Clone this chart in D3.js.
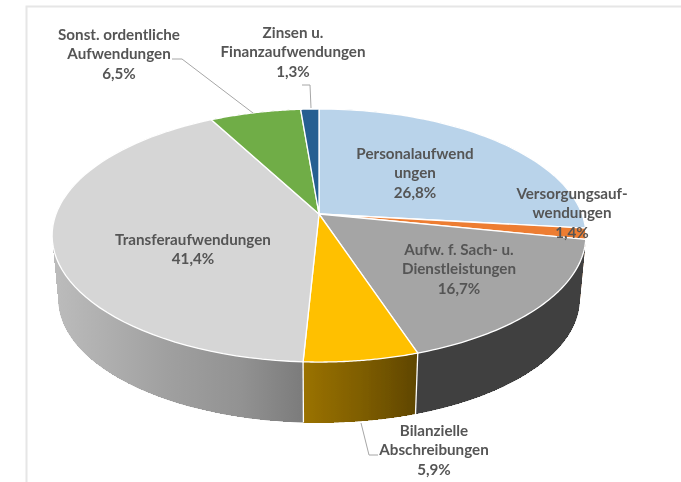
<!DOCTYPE html>
<html><head><meta charset="utf-8">
<script src="https://cdn.jsdelivr.net/npm/d3@7"></script>
<style>html,body{margin:0;padding:0;background:#fff}svg{display:block}</style>
</head><body><svg id="c" width="681" height="482"></svg>
<script>
const categories = ["Personalaufwendungen","Versorgungsaufwendungen","Aufw. f. Sach- u. Dienstleistungen","Bilanzielle Abschreibungen","Transferaufwendungen","Sonst. ordentliche Aufwendungen","Zinsen u. Finanzaufwendungen"];
const values = [26.8,1.4,16.7,5.9,41.4,6.5,1.3];
const labelLines = [["Personalaufwend","ungen"],["Versorgungsauf-","wendungen"],["Aufw. f. Sach- u.","Dienstleistungen"],["Bilanzielle","Abschreibungen"],["Transferaufwendungen"],["Sonst. ordentliche","Aufwendungen"],["Zinsen u.","Finanzaufwendungen"]];
const topColors = ["#b9d3ea","#ed7d31","#a5a5a5","#ffc000","#d6d6d6","#70ad47","#255e91"];

// layout, kept apart from the data
const labelPos = [[415,154],[572,194],[459,250],[434,431],[193,240],[119,35],[293,33]];
const leaders = [
  [[172,59],[182,59],[253,113]],
  [[302,85],[310,85],[311,108]],
  [[361,423],[369,455],[378,455]]
];
const W=681,H=482, apex=[319,214], A=263, K=0.17, M=-86.5;
const vanish=[319,3000], S=0.977;

const svg=d3.select("#c");
const defs=svg.append("defs");
defs.append("filter").attr("id","soft").attr("filterUnits","userSpaceOnUse")
  .attr("x",0).attr("y",0).attr("width",W).attr("height",H)
  .append("feGaussianBlur").attr("stdDeviation",0.55);
function grad(id,stops,x1,x2){
  const g=defs.append("linearGradient").attr("id",id).attr("gradientUnits","userSpaceOnUse")
    .attr("x1",x1).attr("x2",x2).attr("y1",0).attr("y2",0);
  stops.forEach(s=>g.append("stop").attr("offset",s[0]).attr("stop-color",s[1]));
}
grad("wTransfer",[[0,"#bcbcbc"],[0.45,"#a0a0a0"],[0.75,"#929292"],[1,"#7b7b7b"]],53,304);
grad("wBilanz",[[0,"#9a7200"],[0.5,"#7f5e00"],[1,"#5f4600"]],304,417);

const root=svg.append("g").attr("filter","url(#soft)");
root.append("path").attr("d",`M26.5,${H}V6.5H${W}`).attr("fill","none").attr("stroke","#e6e6e6").attr("stroke-width",2);

// perspective projection of the pie's unit circle
function rimTop(a){
  const u=Math.sin(a), v=Math.cos(a), d=1+K*v;
  return [apex[0]+A*u/d,(apex[1]+M*v)/d];
}
function rimBottom(a){
  const p=rimTop(a);
  return [vanish[0]+S*(p[0]-vanish[0]),vanish[1]+S*(p[1]-vanish[1])];
}
const arcs=d3.pie().sort(null).value(d=>d)(values);
const line=d3.line();
function samples(s,e){
  return d3.range(0,61).map(d3.scaleLinear([0,60],[s,e]));
}
const wallFill=["#7f96ab","#a05a20","#404040","url(#wBilanz)","url(#wTransfer)","#4f7a32","#1a4468"];

// side walls: a ruled strip of quads fills up to the tangent edge, a smooth outline goes over it
const walls=root.append("g");
arcs.forEach(d=>{
  const t=samples(d.startAngle,d.endAngle);
  walls.append("g").attr("fill",wallFill[d.index]).attr("shape-rendering","crispEdges")
    .selectAll("path").data(d3.pairs(t)).join("path")
    .attr("d",([a,b])=>line([rimTop(a),rimTop(b),rimBottom(b),rimBottom(a)])+"Z");
  walls.append("path").attr("fill",wallFill[d.index])
    .attr("d",line(t.map(rimTop).concat(t.slice().reverse().map(rimBottom)))+"Z");
});
// white seams on the front-facing slice boundaries
walls.append("g").selectAll("path")
  .data(arcs.filter(d=>Math.cos(d.startAngle)<-0.5))
  .join("path").attr("d",d=>line([rimTop(d.startAngle),rimBottom(d.startAngle)]))
  .attr("stroke","#fff").attr("stroke-width",1.3).attr("fill","none");

// top face
root.append("g").selectAll("path").data(arcs).join("path")
  .attr("d",d=>line([apex].concat(samples(d.startAngle,d.endAngle).map(rimTop)))+"Z")
  .attr("fill",d=>topColors[d.index]).attr("stroke","#fff").attr("stroke-width",1.3).attr("stroke-linejoin","round");

// leaders
root.append("g").selectAll("path").data(leaders).join("path")
  .attr("d",line).attr("fill","none").attr("stroke","#a6a6a6").attr("stroke-width",1);

// labels
const fmt=v=>d3.format(".1f")(v).replace(".",",")+"%";
const lineGap=19.3;
const lbl=root.append("g").attr("font-family","Lato, 'Open Sans', sans-serif").attr("font-size",15.2)
  .attr("font-weight",700).attr("fill","#555555").attr("text-anchor","middle");
arcs.forEach((d,i)=>{
  const t=lbl.append("text").attr("transform",`translate(${labelPos[i][0]},${labelPos[i][1]})`);
  labelLines[i].concat([fmt(d.value)]).forEach((s,j)=>{
    t.append("tspan").attr("x",0).attr("y",j*lineGap+5).text(s);
  });
});
</script></body></html>
